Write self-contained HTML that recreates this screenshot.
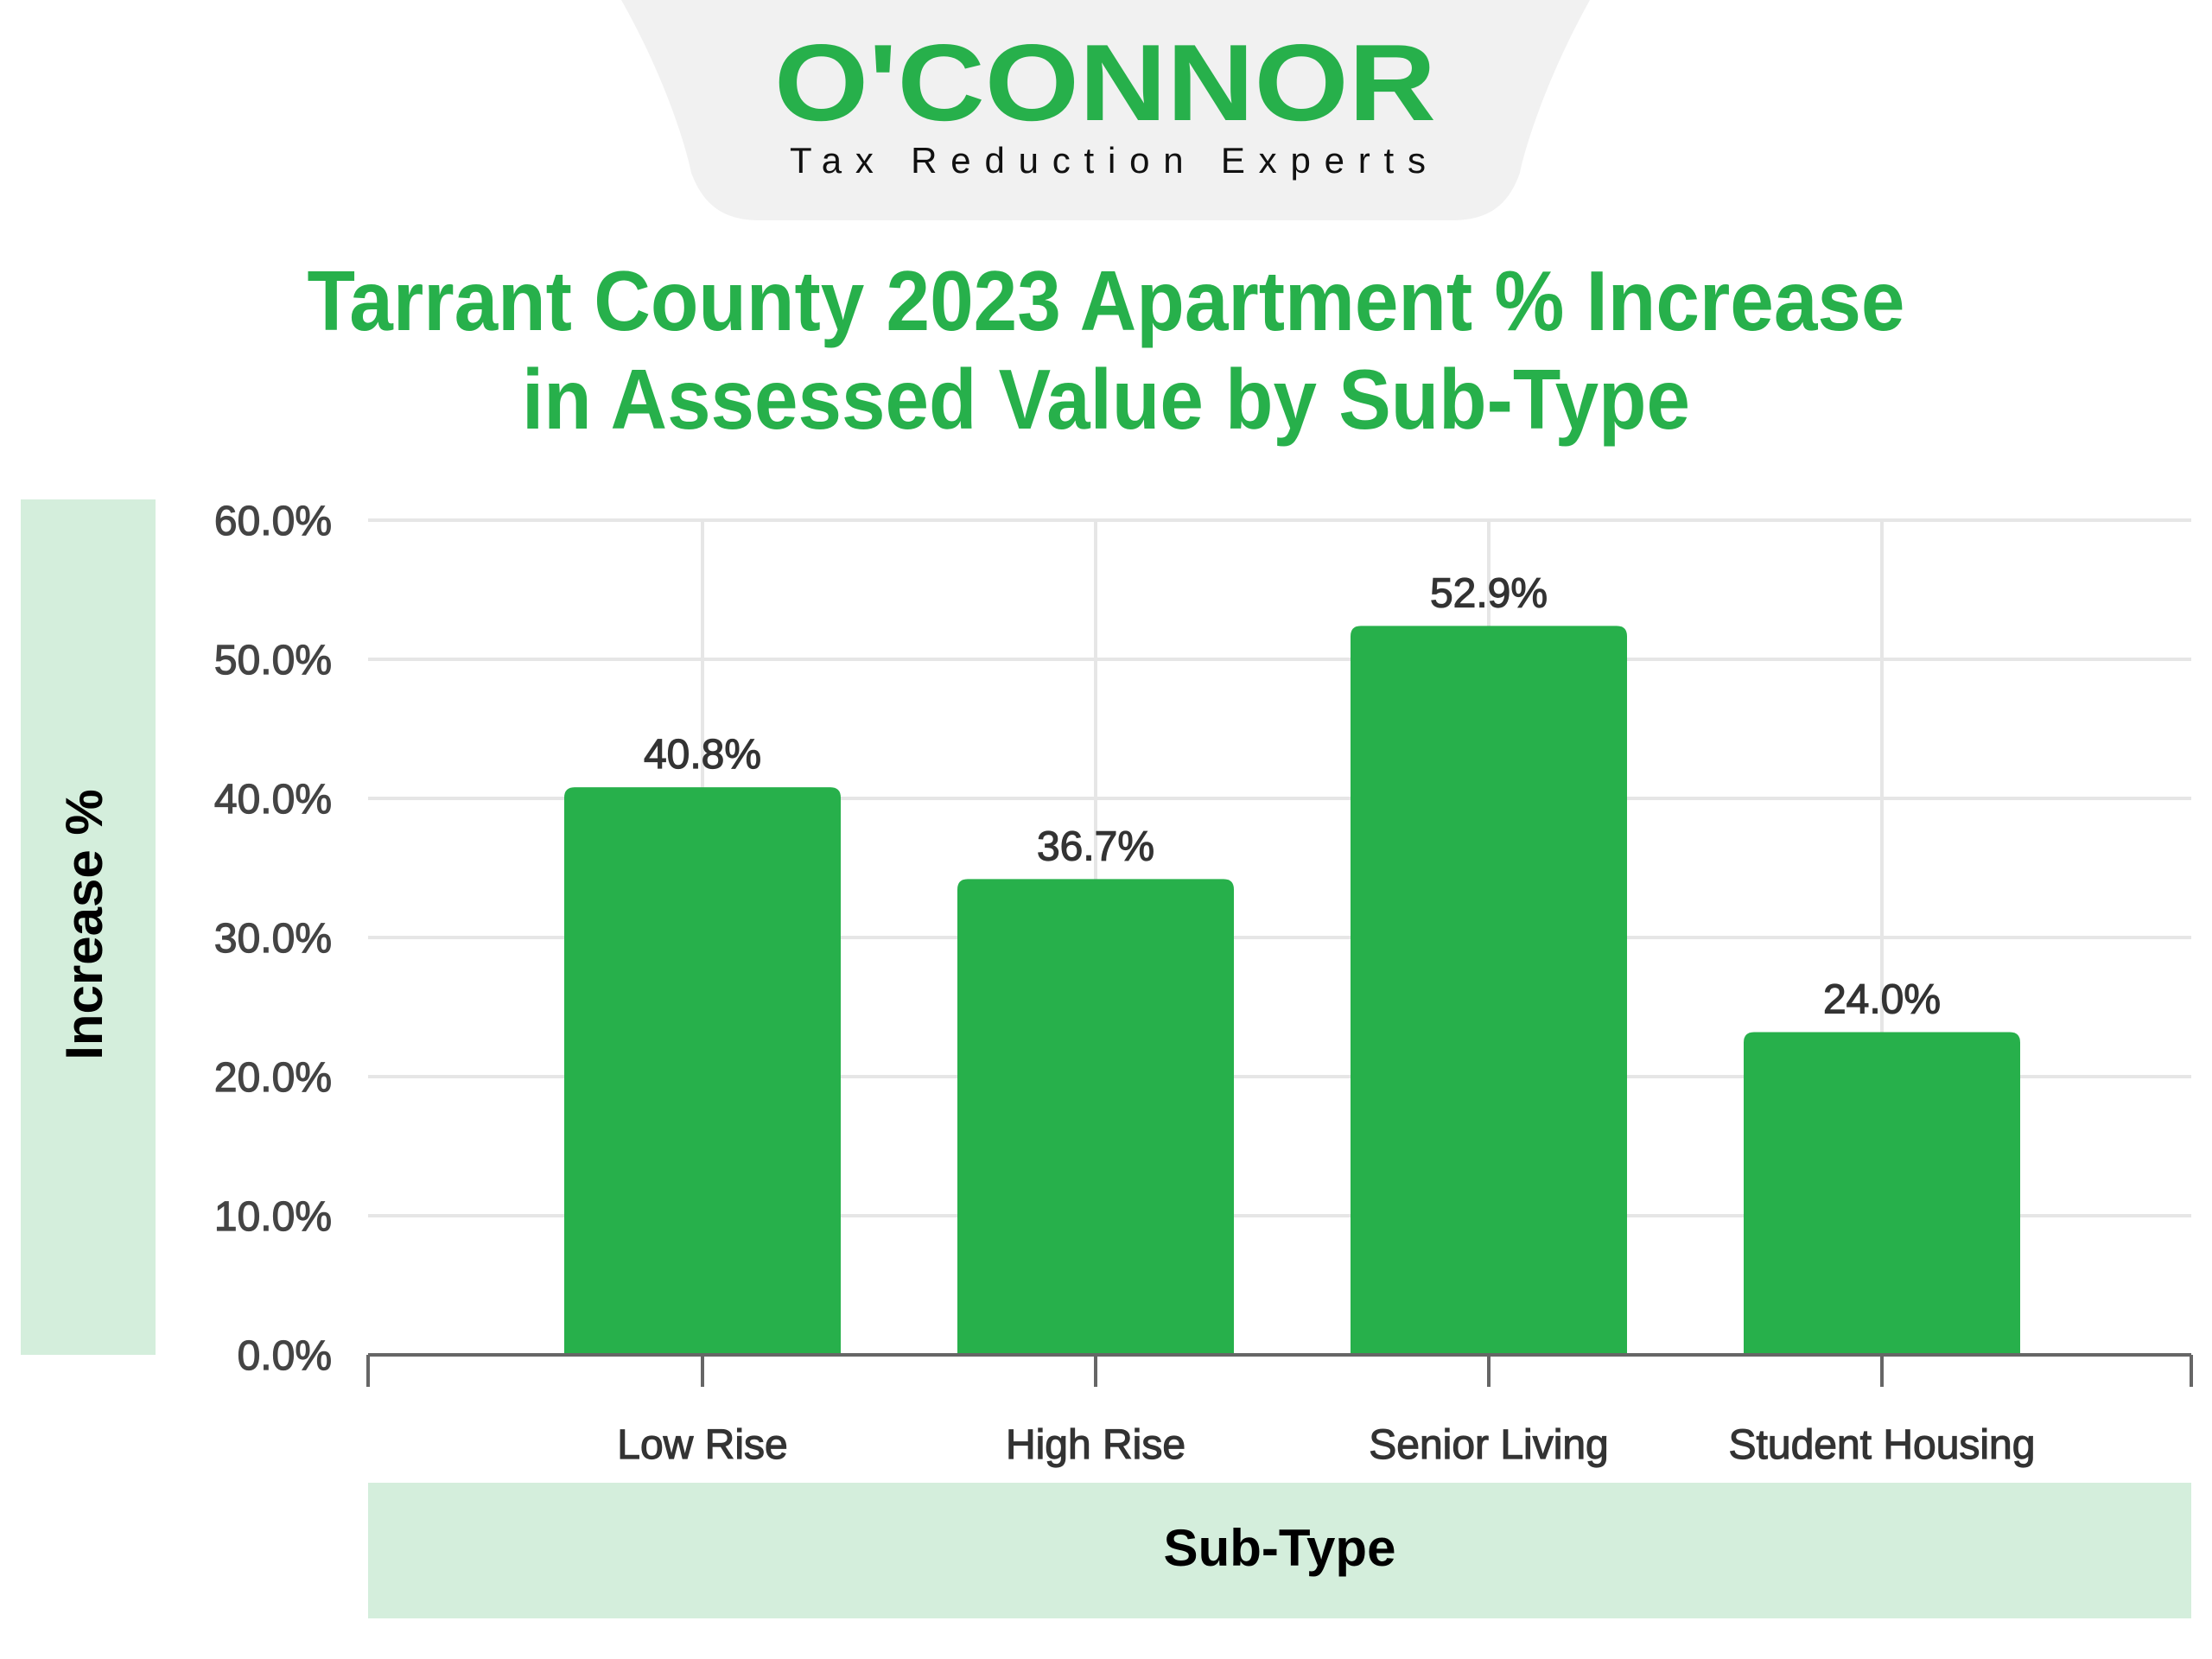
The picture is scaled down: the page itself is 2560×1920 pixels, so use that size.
<!DOCTYPE html>
<html><head><meta charset="utf-8"><style>
html,body{margin:0;padding:0;background:#fff;}
svg{display:block;font-family:"Liberation Sans",sans-serif;}
</style></head><body>
<svg id="chart" width="2560" height="1920" viewBox="0 0 2560 1920">
  <path d="M719 0 L1840 0 C1790 90 1765 170 1759 200 C1745 240 1720 255 1680 255 L880 255 C840 255 815 240 800 200 C794 170 770 90 719 0 Z" fill="#f1f1f1"/>
  <text x="1279" y="139" text-anchor="middle" font-size="126" font-weight="bold" fill="#27b04b" textLength="766" lengthAdjust="spacingAndGlyphs">O'CONNOR</text>
  <text x="1282" y="200" text-anchor="middle" font-size="42" fill="#111" textLength="736" lengthAdjust="spacing">Tax Reduction Experts</text>
  <text x="1280" y="382" text-anchor="middle" font-size="98" font-weight="bold" fill="#27b04b" textLength="1849" lengthAdjust="spacingAndGlyphs">Tarrant County 2023 Apartment % Increase</text>
  <text x="1280" y="496" text-anchor="middle" font-size="98" font-weight="bold" fill="#27b04b" textLength="1352" lengthAdjust="spacingAndGlyphs">in Assessed Value by Sub-Type</text>
  <rect x="24" y="578" width="156" height="990" fill="#d4eedc"/>
  <text transform="translate(118,1070) rotate(-90)" text-anchor="middle" font-size="60" font-weight="bold" fill="#000">Increase %</text>
  <rect x="426" y="1716" width="2110" height="157" fill="#d4eedc"/>
  <text x="1481" y="1812" text-anchor="middle" font-size="60" font-weight="bold" fill="#000">Sub-Type</text>
  <g id="grid"></g><g id="bars"></g><g id="axis"></g>
</svg>
<script>
const categories = ["Low Rise", "High Rise", "Senior Living", "Student Housing"];
const values = [40.8, 34.2, 52.4, 23.2];
const valueLabels = ["40.8%", "36.7%", "52.9%", "24.0%"];
const yTicks = [0, 10, 20, 30, 40, 50, 60];
const yTickLabels = ["0.0%", "10.0%", "20.0%", "30.0%", "40.0%", "50.0%", "60.0%"];

const NS = "http://www.w3.org/2000/svg";
const plotL = 426, plotR = 2536, y0 = 1568, yTop = 602, yMax = 60;
const firstC = 813, step = 455, barW = 320;
function yScale(v){ return y0 - (v / yMax) * (y0 - yTop); }
function xScale(i){ return firstC + i * step; }
function mk(tag, attrs, parent){ const e = document.createElementNS(NS, tag); for (const k in attrs) e.setAttribute(k, attrs[k]); parent.appendChild(e); return e; }
const grid = document.getElementById("grid"), bars = document.getElementById("bars"), axis = document.getElementById("axis");

yTicks.forEach((t, i) => {
  const y = yScale(t);
  if (t > 0) {
    const l = mk("line", {x1: plotL, x2: plotR, y1: y, y2: y, stroke: "#e6e6e6", "stroke-width": 4}, grid);
    
    
  }
  const tx = mk("text", {x: 384, y: y + 17, "text-anchor": "end", "font-size": 48, fill: "#444", stroke: "#444", "stroke-width": 1.2}, axis);
  tx.textContent = yTickLabels[i];
  
  
});
categories.forEach((c, i) => {
  const x = xScale(i);
  const vl = mk("line", {x1: x, x2: x, y1: yTop, y2: y0, stroke: "#e6e6e6", "stroke-width": 4}, grid);
  
  
  const top = yScale(values[i]);
  const r = 12;
  const b = mk("path", {d: `M${x-barW/2} ${y0} L${x-barW/2} ${top+r} Q${x-barW/2} ${top} ${x-barW/2+r} ${top} L${x+barW/2-r} ${top} Q${x+barW/2} ${top} ${x+barW/2} ${top+r} L${x+barW/2} ${y0} Z`, fill: "#27b04b"}, bars);
  
  
  const lab = mk("text", {x: x, y: top - 22, "text-anchor": "middle", "font-size": 48, fill: "#333", stroke: "#333", "stroke-width": 1.2}, bars);
  lab.textContent = valueLabels[i];
  
  
  const tk = mk("line", {x1: x, x2: x, y1: y0, y2: 1605, stroke: "#666", "stroke-width": 4}, axis);
  
  
  const cl = mk("text", {x: x, y: 1688, "text-anchor": "middle", "font-size": 48, fill: "#333", stroke: "#333", "stroke-width": 1.2}, axis);
  cl.textContent = c;
  
  
});
[plotL, plotR].forEach(x => {
  const e = mk("line", {x1: x, x2: x, y1: y0, y2: 1605, stroke: "#666", "stroke-width": 4}, axis);
  
  
});
const ax = mk("line", {x1: plotL, x2: plotR, y1: y0, y2: y0, stroke: "#666", "stroke-width": 4}, axis);


</script>
</body></html>
